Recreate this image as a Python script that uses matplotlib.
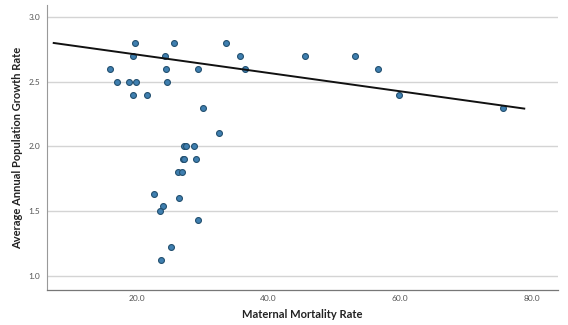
import numpy as np
import matplotlib.pyplot as plt

# maternal mortality rate vs average annual population growth rate
mortality = [15.8, 17.0, 18.8, 19.8, 19.3, 21.5, 19.7, 19.4, 24.2, 24.4,
             24.6, 25.6, 29.3, 30.0, 32.4, 27.2, 27.5, 28.7, 26.9, 27.1,
             29.0, 33.5, 35.6, 36.4, 26.2, 26.8, 22.5, 24.0, 23.4, 26.35,
             29.3, 25.2, 23.7, 45.5, 53.2, 56.6, 59.8, 75.6]
growth = [2.60, 2.50, 2.50, 2.50, 2.40, 2.40, 2.80, 2.70, 2.70, 2.60,
          2.50, 2.80, 2.60, 2.30, 2.10, 2.00, 2.00, 2.00, 1.90, 1.90,
          1.90, 2.80, 2.70, 2.60, 1.80, 1.80, 1.63, 1.54, 1.50, 1.60,
          1.43, 1.22, 1.12, 2.70, 2.70, 2.60, 2.40, 2.30]

# linear fit line (total)
fit_intercept = 2.852
fit_slope = -0.00709
fit_range = (7.3, 78.9)

plt.rcParams['font.family'] = ['Lato', 'DejaVu Sans']

fig = plt.figure(figsize=(5.68, 3.25), dpi=100)
ax = fig.add_axes([0.083, 0.108, 0.899, 0.877])

ax.set_xlim(6.3, 84)
ax.set_ylim(0.89, 3.095)

ax.set_yticks([1.0, 1.5, 2.0, 2.5, 3.0])
ax.set_xticks([20, 40, 60, 80])
ax.set_yticklabels(['%.1f' % v for v in ax.get_yticks()])
ax.set_xticklabels(['%.1f' % v for v in ax.get_xticks()])
ax.tick_params(length=0, labelsize=6, labelcolor='#555555', pad=5)
ax.tick_params(axis='x', pad=4)
ax.yaxis.grid(True, color='#d4d4d4', linewidth=1.0)
ax.set_axisbelow(True)

for s in ['top', 'right']:
    ax.spines[s].set_visible(False)
ax.spines['left'].set_color('#999999')
ax.spines['bottom'].set_color('#777777')
ax.spines['left'].set_linewidth(0.8)
ax.spines['bottom'].set_linewidth(0.9)

ax.scatter(mortality, growth, s=18, c='#3f7fb0', edgecolors='#24506f',
           linewidths=0.8, zorder=3)

xs = np.array(fit_range)
ax.plot(xs, fit_intercept + fit_slope * xs, color='#111111', lw=1.4, zorder=4)

ax.set_xlabel('Maternal Mortality Rate', fontsize=8, fontweight='bold',
              color='#222222', labelpad=5)
ax.set_ylabel('Average Annual Population Growth Rate', fontsize=8,
              fontweight='bold', color='#222222', labelpad=4)

fig.savefig('out.png', dpi=100)
